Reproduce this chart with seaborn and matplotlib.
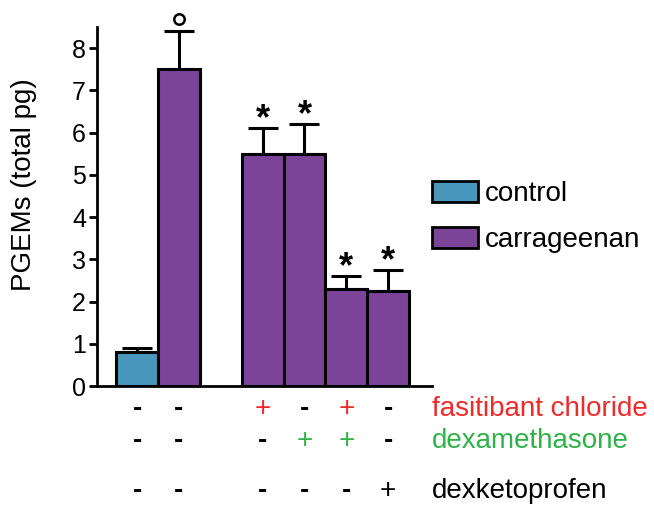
import matplotlib
matplotlib.use("Agg")
import matplotlib.pyplot as plt
import seaborn as sns
import pandas as pd
import numpy as np
from matplotlib.patches import Patch

# ---- data ----
slots = ["c1", "c2", "gap", "t1", "t2", "t3", "t4"]
bar_slots = ["c1", "c2", "t1", "t2", "t3", "t4"]
groups = ["control", "carrageenan", "carrageenan", "carrageenan", "carrageenan", "carrageenan"]
values = [0.8, 7.5, 5.5, 5.5, 2.3, 2.25]
err_upper = [0.1, 0.9, 0.6, 0.7, 0.3, 0.5]
marks = ["", "o", "*", "*", "*", "*"]
fasitibant = ["-", "-", "", "+", "-", "+", "-"]
dexamethasone = ["-", "-", "", "-", "+", "+", "-"]
dexketoprofen = ["-", "-", "", "-", "-", "-", "+"]
row_names = ["fasitibant chloride", "dexamethasone", "dexketoprofen"]
yticks = [0, 1, 2, 3, 4, 5, 6, 7, 8]
ylabel = "PGEMs (total pg)"

BLUE = "#4A97BE"
PURPLE = "#7B4498"
RED = "#EE2A2A"
GREEN = "#2FB24A"

sns.set_style("ticks")
plt.rcParams["font.family"] = ["Liberation Sans", "DejaVu Sans"]
plt.rcParams.update({"text.color": "black", "axes.labelcolor": "black",
                     "xtick.color": "black", "ytick.color": "black",
                     "axes.edgecolor": "black"})

fig = plt.figure(figsize=(6.54, 5.05), dpi=100)
W, H = 654, 505
ax = fig.add_axes([97 / W, 1 - 386 / H, 335 / W, 359 / H])

df = pd.DataFrame({"slot": bar_slots, "value": values, "group": groups})
sns.barplot(data=df, x="slot", y="value", hue="group", order=slots,
            hue_order=["control", "carrageenan"],
            palette={"control": BLUE, "carrageenan": PURPLE}, saturation=1,
            dodge=False, width=1.0, errorbar=None, ax=ax,
            edgecolor="black", linewidth=2.2, legend=False, zorder=3)

pos = [slots.index(s) for s in bar_slots]
ax.errorbar(pos, values, yerr=[np.zeros(len(values)), err_upper], fmt="none",
            ecolor="black", elinewidth=2.2, capsize=11, capthick=2.2, zorder=2,
            clip_on=False)

for p, v, e, m in zip(pos, values, err_upper, marks):
    top = v + e
    if m == "*":
        ax.text(p, top - 0.22, "*", ha="center", va="bottom", fontsize=26,
                fontweight="bold", color="black", clip_on=False)
    elif m == "o":
        ax.plot([p], [top + 0.3], marker="o", markersize=7.5, mfc="white",
                mec="black", mew=1.8, clip_on=False, zorder=5)

ax.set_xlim(-0.96, 7.05)
ax.set_ylim(0, 8.5)
ax.set_yticks(yticks)
ax.set_yticklabels([str(t) for t in yticks], fontsize=18)
ax.set_xticks([])
ax.set_xlabel("")
ax.set_ylabel(ylabel, fontsize=20)
ax.yaxis.set_label_coords(-0.178, 0.56)
for side in ["top", "right"]:
    ax.spines[side].set_visible(False)
for side in ["left", "bottom"]:
    ax.spines[side].set_linewidth(2.0)
ax.tick_params(axis="y", length=6, width=2.0, pad=2)

# treatment rows
rows = [fasitibant, dexamethasone, dexketoprofen]
row_colors = [RED, GREEN, "black"]
row_y = [-(409 - 386) / 359, -(441 - 386) / 359, -(491 - 386) / 359]
xt = ax.get_xaxis_transform()
for signs, col, yy, name in zip(rows, row_colors, row_y, row_names):
    for i, s in enumerate(signs):
        if s:
            ax.text(i, yy, s, transform=xt, ha="center", va="center",
                    fontsize=20, fontweight="bold" if s == "-" else "normal",
                    color=col if s == "+" else "black", clip_on=False)
    ax.text(1.0, yy, name, transform=ax.transAxes, ha="left", va="center",
            fontsize=20, color=col)

handles = [Patch(facecolor=BLUE, edgecolor="black", linewidth=2.0, label="control"),
           Patch(facecolor=PURPLE, edgecolor="black", linewidth=2.0, label="carrageenan")]
fig.legend(handles=handles, loc="upper left", bbox_to_anchor=(432 / W, 1 - 181 / H),
           frameon=False, fontsize=20, handlelength=1.65, handleheight=0.8,
           handletextpad=0.25, labelspacing=0.7, borderpad=0, borderaxespad=0)

fig.savefig("out.png", dpi=100)
